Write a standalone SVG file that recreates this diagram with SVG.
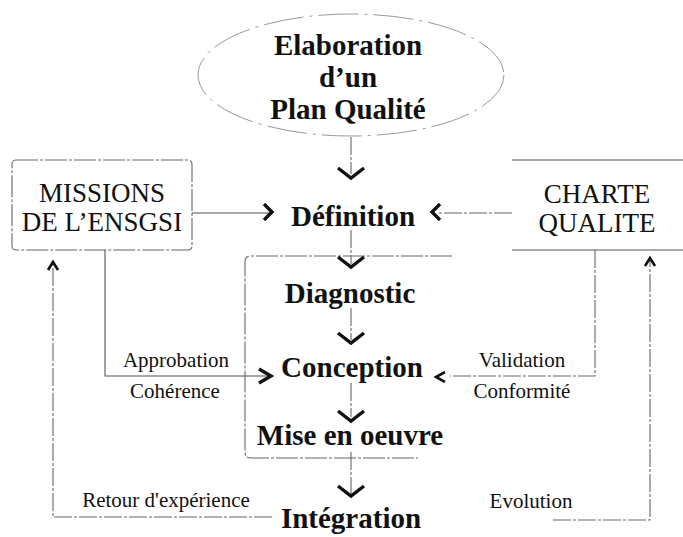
<svg xmlns="http://www.w3.org/2000/svg" width="683" height="537" viewBox="0 0 683 537">
<style>
.bg{fill:#fff}
.main{font-family:"Liberation Serif","Times New Roman",serif;font-weight:bold;font-size:29px;fill:#111;text-anchor:middle}
.box{font-family:"Liberation Serif","Times New Roman",serif;font-size:27px;fill:#111;text-anchor:middle}
.lbl{font-family:"Liberation Serif","Times New Roman",serif;font-size:21px;fill:#111;text-anchor:middle}
.ln{fill:none;stroke:#555;stroke-width:1.1}
.dash{fill:none;stroke:#666;stroke-width:1.1;stroke-dasharray:18 2 3 2}
.frame{fill:none;stroke:#666;stroke-width:1.1;stroke-dasharray:22 2 3 2}
.chev{fill:none;stroke:#111;stroke-width:3.4;stroke-linejoin:miter;stroke-linecap:butt}
</style>
<rect class="bg" x="0" y="0" width="683" height="537"/>

<g id="plan">
<ellipse cx="351" cy="75" rx="153" ry="61" fill="none" stroke="#999" stroke-width="1" stroke-dasharray="40 6 3 6"/>
<text class="main" x="348" y="55">Elaboration</text>
<text class="main" x="348" y="87">d’un</text>
<text class="main" x="348" y="119">Plan Qualité</text>
</g>

<g id="missions">
<rect class="frame" x="12" y="160" width="180" height="90" rx="4"/>
<text class="box" x="102" y="202">MISSIONS</text>
<text class="box" x="102" y="231">DE L’ENSGSI</text>
</g>

<g id="charte">
<path class="ln" d="M512,160 H683 M512,250 H683"/>
<text class="box" x="597" y="203">CHARTE</text>
<text class="box" x="597" y="232">QUALITE</text>
</g>

<g id="definition"><text class="main" x="353" y="226">Définition</text></g>
<g id="cycle"><path class="frame" d="M452,256 H251 Q245,256 245,262 V452 Q245,458 251,458 H418"/></g>
<g id="diagnostic"><text class="main" x="350" y="303">Diagnostic</text></g>
<g id="conception"><text class="main" x="352" y="377">Conception</text></g>
<g id="miseenoeuvre"><text class="main" x="350" y="445">Mise en oeuvre</text></g>
<g id="integration"><text class="main" x="351" y="528">Intégration</text></g>

<g id="connectors">
<path class="dash" d="M351,137 V174 M351,230 V264 M351,308 V340 M351,383 V417 M351,452 V494"/>
<polyline class="chev" points="338,168 351,178 364,168"/>
<polyline class="chev" points="338,257 351,267 364,257"/>
<polyline class="chev" points="338,333 351,343 364,333"/>
<polyline class="chev" points="338,411 351,421 364,411"/>
<polyline class="chev" points="338,486 351,496 364,486"/>
<path class="ln" d="M192,213 H270"/>
<polyline class="chev" points="264,204 272,212 264,220"/>
<path class="dash" d="M512,213 H438"/>
<polyline class="chev" points="440,204 432,212 440,220"/>
<path class="ln" d="M105,250 V376 H268"/>
<polyline class="chev" points="259,369 271,376 259,383"/>
<path class="dash" d="M595,250 V376 H450"/>
<polyline class="chev" points="445,372 436,377 445,382" style="stroke-width:2.6"/>
<path class="dash" d="M272,517 H53 V263"/>
<polyline class="chev" points="48,270 53,262 58,270" style="stroke-width:2.6"/>
<path class="dash" d="M553,520 H650 V260"/>
<polyline class="chev" points="645,266 650,258 655,266" style="stroke-width:2.6"/>
<text class="lbl" x="176" y="367">Approbation</text>
<text class="lbl" x="175" y="398">Cohérence</text>
<text class="lbl" x="522" y="367">Validation</text>
<text class="lbl" x="522" y="398">Conformité</text>
<text class="lbl" x="166" y="507">Retour d'expérience</text>
<text class="lbl" x="531" y="508">Evolution</text>
</g>
</svg>
